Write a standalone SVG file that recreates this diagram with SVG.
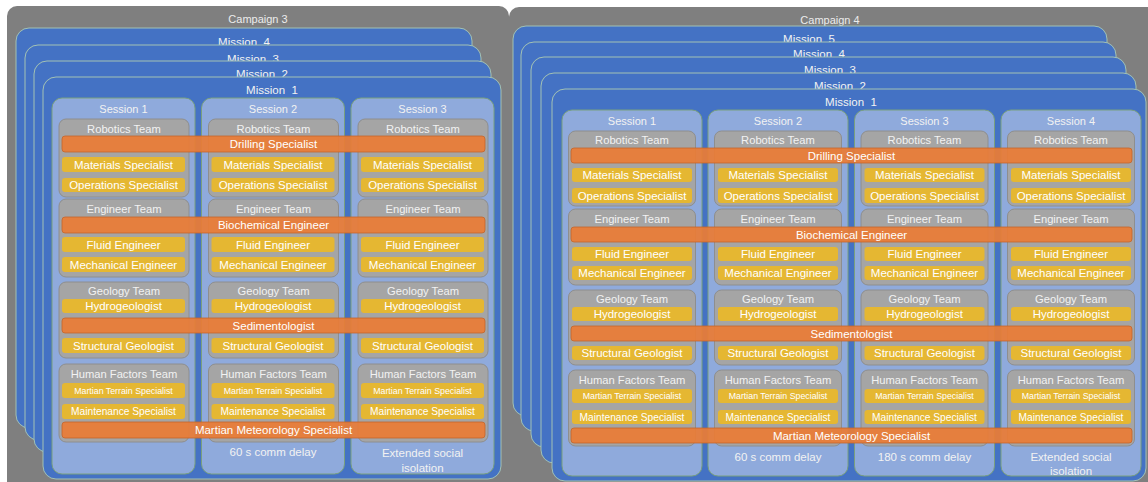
<svg xmlns="http://www.w3.org/2000/svg" width="1148" height="482" viewBox="0 0 1148 482">
<defs>
<style>
text{font-family:"Liberation Sans",Arial,sans-serif;text-anchor:middle;dominant-baseline:central;fill:#f2f2f2}
.camp{fill:#7f7f7f}
.ct{font-size:11px;fill:#ececec}
.mis{fill:#4472c4;stroke:#a3c2b4;stroke-width:1}
.mt{font-size:11.5px}
.ses{fill:#8faadc;stroke:#79a07f;stroke-width:1}
.st{font-size:11px}
.team{fill:#a5a5a5;stroke:#8e8e8e;stroke-width:1}
.tt{font-size:11.2px}
.yel{fill:#e5b732}
.yt{font-size:11.5px;fill:#fff}
.ym{font-size:10.2px;fill:#fff}
.ys{font-size:8.8px;fill:#fff}
.org{fill:#e97c36;fill-opacity:0.93;stroke:#c4652b;stroke-width:0.8}
.ot{font-size:11.5px;fill:#fff}
.bt{font-size:11.5px}
</style>
<g id="s3">
<rect class="ses" x="0" y="0" width="143" height="376" rx="10"/>
<rect class="team" x="7" y="21" width="130" height="78" rx="7"/>
<rect class="team" x="7" y="101" width="130" height="78" rx="7"/>
<rect class="team" x="7" y="184" width="130" height="76" rx="7"/>
<rect class="team" x="7" y="266" width="130" height="78" rx="7"/>
<text class="tt" x="72" y="31">Robotics Team</text>
<text class="tt" x="72" y="111">Engineer Team</text>
<text class="tt" x="72" y="193">Geology Team</text>
<text class="tt" x="72" y="276">Human Factors Team</text>
<rect class="yel" x="10" y="59" width="123" height="15" rx="3"/>
<rect class="yel" x="10" y="80" width="123" height="14" rx="3"/>
<rect class="yel" x="10" y="139" width="123" height="15" rx="3"/>
<rect class="yel" x="10" y="159" width="123" height="15" rx="3"/>
<rect class="yel" x="10" y="201" width="123" height="14" rx="3"/>
<rect class="yel" x="10" y="240" width="123" height="15" rx="3"/>
<rect class="yel" x="10" y="285" width="123" height="15" rx="3"/>
<rect class="yel" x="10" y="306" width="123" height="15" rx="3"/>
<text class="yt" x="71.5" y="66.5">Materials Specialist</text>
<text class="yt" x="71.5" y="87">Operations Specialist</text>
<text class="yt" x="71.5" y="146.5">Fluid Engineer</text>
<text class="yt" x="71.5" y="166.5">Mechanical Engineer</text>
<text class="yt" x="71.5" y="208">Hydrogeologist</text>
<text class="yt" x="71.5" y="247.5">Structural Geologist</text>
<text class="ys" x="71.5" y="292.5">Martian Terrain Specialist</text>
<text class="ym" x="71.5" y="313.5">Maintenance Specialist</text>
</g>
<g id="s4">
<rect class="ses" x="0" y="0" width="140" height="366" rx="10"/>
<rect class="team" x="6.5" y="21" width="127" height="75" rx="7"/>
<rect class="team" x="6.5" y="99" width="127" height="76" rx="7"/>
<rect class="team" x="6.5" y="180" width="127" height="75" rx="7"/>
<rect class="team" x="6.5" y="260" width="127" height="76" rx="7"/>
<text class="tt" x="70" y="30">Robotics Team</text>
<text class="tt" x="70" y="109">Engineer Team</text>
<text class="tt" x="70" y="189">Geology Team</text>
<text class="tt" x="70" y="270">Human Factors Team</text>
<rect class="yel" x="10" y="58" width="120" height="14" rx="3"/>
<rect class="yel" x="10" y="78" width="120" height="15" rx="3"/>
<rect class="yel" x="10" y="137" width="120" height="14" rx="3"/>
<rect class="yel" x="10" y="156" width="120" height="14" rx="3"/>
<rect class="yel" x="10" y="197" width="120" height="14" rx="3"/>
<rect class="yel" x="10" y="236" width="120" height="14" rx="3"/>
<rect class="yel" x="10" y="279" width="120" height="14" rx="3"/>
<rect class="yel" x="10" y="300" width="120" height="14" rx="3"/>
<text class="yt" x="70" y="65">Materials Specialist</text>
<text class="yt" x="70" y="85.5">Operations Specialist</text>
<text class="yt" x="70" y="144">Fluid Engineer</text>
<text class="yt" x="70" y="163">Mechanical Engineer</text>
<text class="yt" x="70" y="204">Hydrogeologist</text>
<text class="yt" x="70" y="243">Structural Geologist</text>
<text class="ys" x="70" y="286">Martian Terrain Specialist</text>
<text class="ym" x="70" y="307">Maintenance Specialist</text>
</g>
</defs>

<g id="campaign-3">
<rect class="camp" x="7" y="6" width="502" height="490" rx="10"/>
<text class="ct" x="258" y="19">Campaign 3</text>
</g>
<g id="c3-mission-4">
<rect class="mis" x="16" y="28" width="456" height="400" rx="13"/>
<text class="mt" x="244" y="42" xml:space="preserve">Mission  4</text>
</g>
<g id="c3-mission-3">
<rect class="mis" x="25" y="45" width="456" height="395" rx="13"/>
<text class="mt" x="253" y="59" xml:space="preserve">Mission  3</text>
</g>
<g id="c3-mission-2">
<rect class="mis" x="34" y="61" width="457" height="391" rx="13"/>
<text class="mt" x="262" y="74" xml:space="preserve">Mission  2</text>
</g>
<g id="c3-mission-1">
<rect class="mis" x="43" y="77" width="458" height="402" rx="13"/>
<text class="mt" x="272" y="90" xml:space="preserve">Mission  1</text>
</g>
<g id="c3-session-1" transform="translate(52,98)">
<use href="#s3"/>
<text class="st" x="71.5" y="11">Session 1</text>
</g>
<g id="c3-session-2" transform="translate(201.5,98)">
<use href="#s3"/>
<text class="st" x="71.5" y="11">Session 2</text>
<text class="bt" x="71.5" y="354">60 s comm delay</text>
</g>
<g id="c3-session-3" transform="translate(351,98)">
<use href="#s3"/>
<text class="st" x="71.5" y="11">Session 3</text>
<text class="bt" x="71.5" y="355">Extended social</text>
<text class="bt" x="71.5" y="370">isolation</text>
</g>
<g id="c3-drilling">
<rect class="org" x="62" y="136" width="423" height="16" rx="3"/>
<text class="ot" x="273.5" y="144">Drilling Specialist</text>
</g>
<g id="c3-biochemical">
<rect class="org" x="62" y="217" width="423" height="16" rx="3"/>
<text class="ot" x="273.5" y="225">Biochemical Engineer</text>
</g>
<g id="c3-sedimentologist">
<rect class="org" x="62" y="318" width="423" height="15" rx="3"/>
<text class="ot" x="273.5" y="325.5">Sedimentologist</text>
</g>
<g id="c3-meteorology">
<rect class="org" x="62" y="422" width="423" height="16" rx="3"/>
<text class="ot" x="273.5" y="430">Martian Meteorology Specialist</text>
</g>

<g id="campaign-4">
<rect class="camp" x="509" y="7" width="660" height="490" rx="10"/>
<text class="ct" x="830" y="20">Campaign 4</text>
</g>
<g id="c4-mission-5">
<rect class="mis" x="513" y="26" width="594" height="390" rx="13"/>
<text class="mt" x="809" y="39" xml:space="preserve">Mission  5</text>
</g>
<g id="c4-mission-4">
<rect class="mis" x="521" y="42" width="595" height="389" rx="13"/>
<text class="mt" x="819" y="54" xml:space="preserve">Mission  4</text>
</g>
<g id="c4-mission-3">
<rect class="mis" x="531" y="57" width="595" height="390" rx="13"/>
<text class="mt" x="830" y="70" xml:space="preserve">Mission  3</text>
</g>
<g id="c4-mission-2">
<rect class="mis" x="541" y="73" width="595" height="390" rx="13"/>
<text class="mt" x="840" y="86" xml:space="preserve">Mission  2</text>
</g>
<g id="c4-mission-1">
<rect class="mis" x="552" y="89" width="594" height="392" rx="13"/>
<text class="mt" x="851" y="102" xml:space="preserve">Mission  1</text>
</g>
<g id="c4-session-1" transform="translate(562,110)">
<use href="#s4"/>
<text class="st" x="70" y="11">Session 1</text>
</g>
<g id="c4-session-2" transform="translate(708,110)">
<use href="#s4"/>
<text class="st" x="70" y="11">Session 2</text>
<text class="bt" x="70" y="347">60 s comm delay</text>
</g>
<g id="c4-session-3" transform="translate(854.5,110)">
<use href="#s4"/>
<text class="st" x="70" y="11">Session 3</text>
<text class="bt" x="70" y="347">180 s comm delay</text>
</g>
<g id="c4-session-4" transform="translate(1001,110)">
<use href="#s4"/>
<text class="st" x="70" y="11">Session 4</text>
<text class="bt" x="70" y="347">Extended social</text>
<text class="bt" x="70" y="361">isolation</text>
</g>
<g id="c4-drilling">
<rect class="org" x="571" y="148" width="561" height="15" rx="3"/>
<text class="ot" x="851.5" y="155.5">Drilling Specialist</text>
</g>
<g id="c4-biochemical">
<rect class="org" x="571" y="227" width="561" height="15" rx="3"/>
<text class="ot" x="851.5" y="234.5">Biochemical Engineer</text>
</g>
<g id="c4-sedimentologist">
<rect class="org" x="571" y="326" width="561" height="15" rx="3"/>
<text class="ot" x="851.5" y="333.5">Sedimentologist</text>
</g>
<g id="c4-meteorology">
<rect class="org" x="571" y="428" width="561" height="15" rx="3"/>
<text class="ot" x="851.5" y="435.5">Martian Meteorology Specialist</text>
</g>
</svg>
